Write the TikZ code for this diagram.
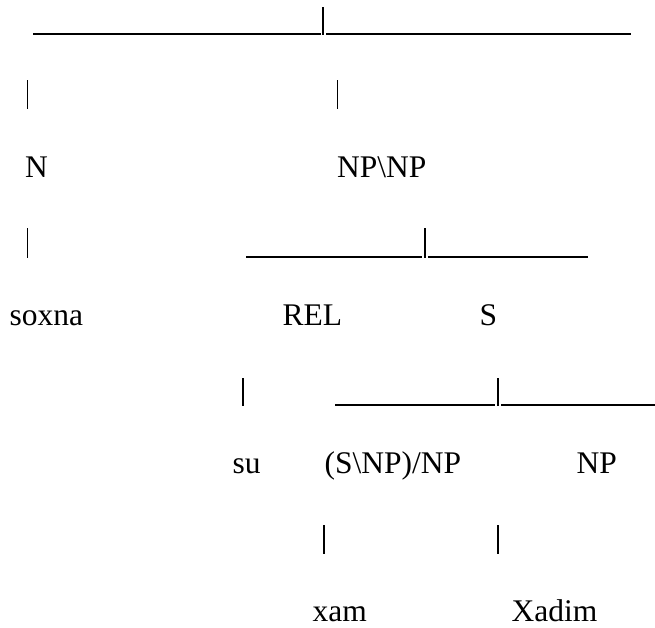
\documentclass[tikz,border=0pt]{standalone}
\usepackage{fontspec}
\setmainfont{Liberation Serif}
\begin{document}
\begin{tikzpicture}[x=1pt,y=-1pt,
  lbl/.style={anchor=base west,inner sep=0pt,text depth=0pt,font=\fontsize{31.5}{36}\selectfont},
  bar/.style={line width=1.2pt}]
\useasboundingbox (0,0) rectangle (655,627);

% category and word labels
\node[lbl] (n)     at (25,177)  {N};
\node[lbl] (npnp)  at (337,177) {NP\textbackslash NP};
\node[lbl] (soxna) at (9.5,325) {soxna};
\node[lbl] (rel)   at (282.5,325) {REL};
\node[lbl] (s)     at (479.5,325) {S};
\node[lbl] (su)    at (232.5,473) {su};
\node[lbl] (tv)    at (324.5,473) {(S\textbackslash NP)/NP};
\node[lbl] (np)    at (576.5,473) {NP};
\node[lbl] (xam)   at (312.5,621) {xam};
\node[lbl] (xadim) at (511.5,621) {Xadim};

% branch junctions and bar ends
\coordinate (r1a) at (33,34);   \coordinate (r1b) at (321,34);
\coordinate (r1t) at (323,7);   \coordinate (r1d) at (323,35);
\coordinate (r1c) at (326,34);  \coordinate (r1e) at (631,34);

\coordinate (r4a) at (246,257); \coordinate (r4b) at (422,257);
\coordinate (r4t) at (425,228); \coordinate (r4d) at (425,258);
\coordinate (r4c) at (428,257); \coordinate (r4e) at (588,257);

\coordinate (r6a) at (335,405); \coordinate (r6b) at (495,405);
\coordinate (r6t) at (498,378); \coordinate (r6d) at (498,406);
\coordinate (r6c) at (501,405); \coordinate (r6e) at (655,405);

% root split
\draw[bar] (r1a) -- (r1b);
\draw[bar] (r1t) -- (r1d);
\draw[bar] (r1c) -- (r1e);
\draw[bar] (27.5,80) -- (27.5,109);
\draw[bar] (337.5,80) -- (337.5,109);

% N -> soxna, NP\NP split
\draw[bar] (27.5,228) -- (27.5,258);
\draw[bar] (r4a) -- (r4b);
\draw[bar] (r4t) -- (r4d);
\draw[bar] (r4c) -- (r4e);

% REL -> su, S split
\draw[bar] (243,378) -- (243,406);
\draw[bar] (r6a) -- (r6b);
\draw[bar] (r6t) -- (r6d);
\draw[bar] (r6c) -- (r6e);

% leaves
\draw[bar] (324,525) -- (324,554);
\draw[bar] (498,525) -- (498,554);
\end{tikzpicture}
\end{document}
